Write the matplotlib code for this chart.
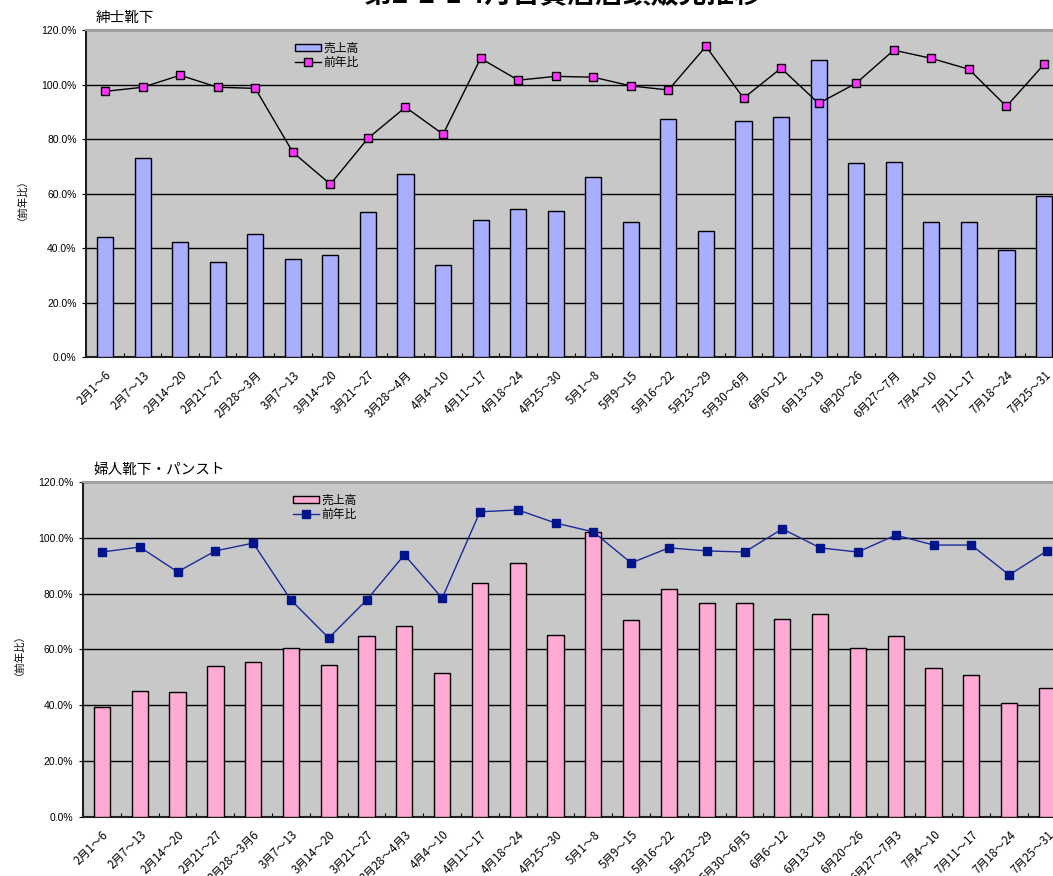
import matplotlib
matplotlib.use("Agg")
import matplotlib.pyplot as plt
import numpy as np

plt.rcParams['font.family'] = ['Noto Sans CJK JP', 'DejaVu Sans']

# data
weeks_m = ['2月1～6', '2月7～13', '2月14～20', '2月21～27', '2月28～3月', '3月7～13',
           '3月14～20', '3月21～27', '3月28～4月', '4月4～10', '4月11～17', '4月18～24',
           '4月25～30', '5月1～8', '5月9～15', '5月16～22', '5月23～29', '5月30～6月',
           '6月6～12', '6月13～19', '6月20～26', '6月27～7月', '7月4～10', '7月11～17',
           '7月18～24', '7月25～31']
weeks_w = ['2月1～6', '2月7～13', '2月14～20', '2月21～27', '2月28～3月6', '3月7～13',
           '3月14～20', '3月21～27', '3月28～4月3', '4月4～10', '4月11～17', '4月18～24',
           '4月25～30', '5月1～8', '5月9～15', '5月16～22', '5月23～29', '5月30～6月5',
           '6月6～12', '6月13～19', '6月20～26', '6月27～7月3', '7月4～10', '7月11～17',
           '7月18～24', '7月25～31']

men_sales = [44.0, 73.2, 42.4, 35.0, 45.4, 36.0, 37.6, 53.3, 67.2, 34.0, 50.4, 54.4, 53.8,
             66.1, 49.8, 87.5, 46.4, 86.5, 88.0, 109.0, 71.3, 71.7, 49.8, 49.8, 39.4, 59.2]
men_yoy = [97.5, 99.0, 103.4, 99.0, 98.6, 75.2, 63.5, 80.3, 91.7, 81.8, 109.6, 101.6, 103.0,
           102.7, 99.5, 98.0, 114.0, 95.0, 106.0, 93.1, 100.5, 112.6, 109.6, 105.6, 92.0, 107.4]

women_sales = [39.4, 45.1, 44.8, 54.1, 55.5, 60.5, 54.4, 64.8, 68.4, 51.6, 83.8, 91.0, 65.2,
               102.1, 70.6, 81.7, 76.7, 76.7, 70.9, 72.7, 60.5, 64.8, 53.4, 50.9, 40.8, 46.2]
women_yoy = [94.9, 96.7, 87.8, 95.3, 98.1, 77.7, 64.1, 77.7, 93.9, 78.4, 109.3, 110.0, 105.3,
             102.1, 91.0, 96.4, 95.3, 94.9, 103.2, 96.4, 94.9, 101.0, 97.4, 97.4, 86.7, 95.3]

fig = plt.figure(figsize=(10.53, 8.76), dpi=100)

# main title is cut off at the top edge in the original
fig.text(0.535, 1.006, '第2-2-1 4月百貨店店頭販売推移', ha='center', va='center',
         fontsize=20, fontweight='bold')


def draw(ax, labels, sales, yoy, bar_color, line_color, mk_face, mk_edge, title):
    x = np.arange(len(labels))
    ax.set_facecolor('#C8C8C8')
    b = ax.bar(x, sales, width=0.43, color=bar_color, edgecolor='black', linewidth=1.0,
               zorder=3)
    l, = ax.plot(x, yoy, color=line_color, linewidth=1.0, marker='s', markersize=5.5,
                 markerfacecolor=mk_face, markeredgecolor=mk_edge, markeredgewidth=1.0,
                 zorder=4)
    ax.set_xlim(-0.5, len(labels) - 0.5)
    ax.set_ylim(0, 120)
    ax.set_yticks(np.arange(0, 121, 20))
    ax.set_yticklabels(['%.1f%%' % v for v in np.arange(0, 121, 20)], fontsize=7.5,
                       family=['Liberation Sans', 'DejaVu Sans'])
    ax.yaxis.grid(True, color='black', linewidth=1.0, zorder=1)
    ax.set_axisbelow(True)
    ax.tick_params(axis='y', length=3, width=0.8, pad=4)
    ax.set_xticks(x)
    ax.set_xticklabels(labels, rotation=45, ha='right', rotation_mode='anchor', fontsize=8.3)
    ax.tick_params(axis='x', length=0, pad=8)
    ax.set_xticks(np.arange(len(labels) + 1) - 0.5, minor=True)
    ax.tick_params(axis='x', which='minor', direction='in', length=3, width=0.8)
    for s in ['left', 'bottom']:
        ax.spines[s].set_linewidth(1.5)
        ax.spines[s].set_color('#202020')
    ax.spines['top'].set_color('#A0A0A0')
    ax.spines['top'].set_linewidth(1.5)
    ax.spines['right'].set_visible(False)
    ax.set_ylabel('（前年比）', fontsize=7.5, labelpad=14)
    ax.text(0.01, 1.015, title, transform=ax.transAxes, fontsize=10.5, ha='left', va='bottom')
    ax.legend([b, l], ['売上高', '前年比'], loc='upper left', bbox_to_anchor=(0.205, 0.99),
              frameon=False, fontsize=8.5, handlelength=2.2, handleheight=0.6,
              labelspacing=0.15, borderpad=0.2, handletextpad=0.2)
    return ax


ax1 = fig.add_axes([0.0819, 0.5919, 0.9274, 0.3739])
draw(ax1, weeks_m, men_sales, men_yoy, '#A9AEFF', 'black', '#FF33FF', 'black', '紳士靴下')

ax2 = fig.add_axes([0.0789, 0.0674, 0.9333, 0.3824])
draw(ax2, weeks_w, women_sales, women_yoy, '#FFA9D5', '#1A2A99', '#00148C', '#00148C',
     '婦人靴下・パンスト')

fig.savefig('out.png', dpi=100)
